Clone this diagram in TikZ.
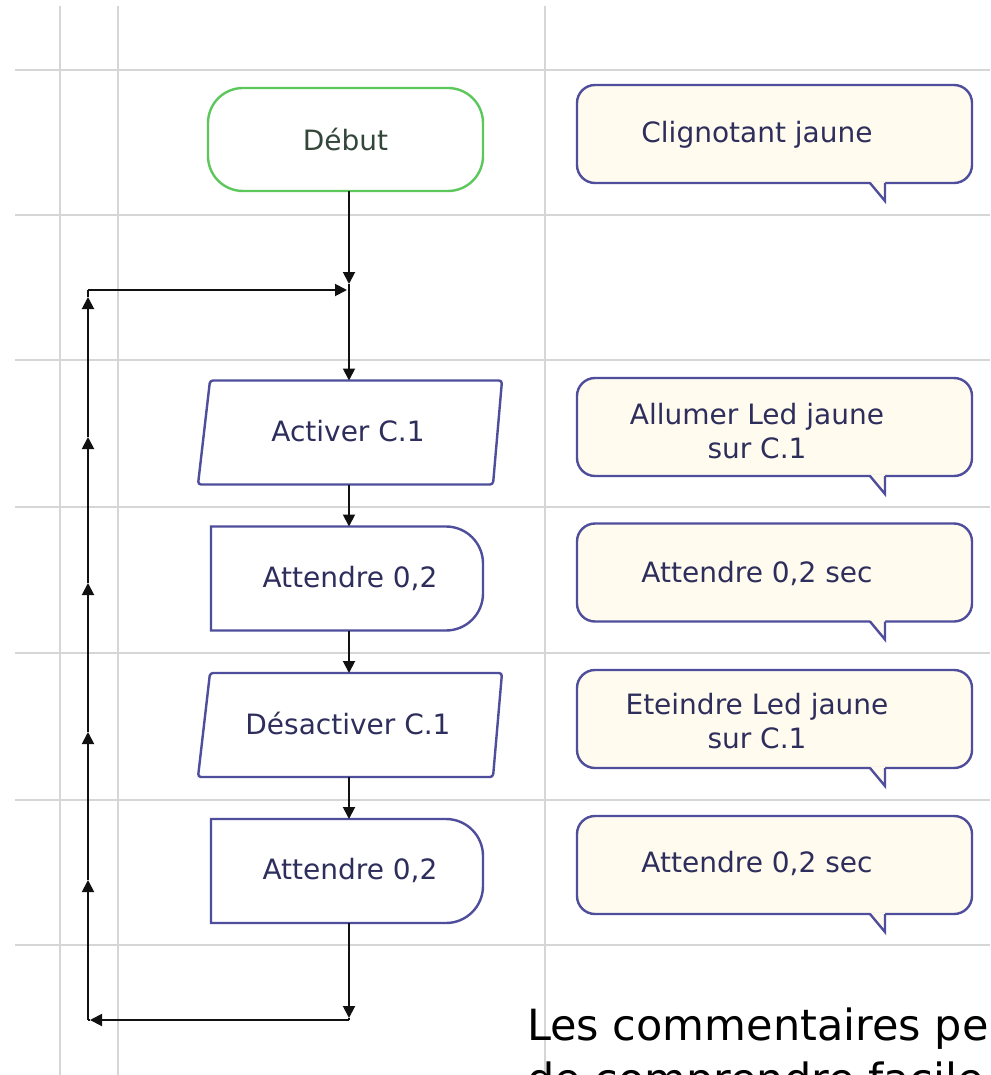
\documentclass[tikz,border=0pt]{standalone}
\usepackage{fontspec}
\setmainfont{DejaVu Sans}
\usetikzlibrary{arrows.meta,calc}
\definecolor{gridc}{HTML}{D6D6D6}
\definecolor{bordc}{HTML}{4E4E9C}
\definecolor{greenc}{HTML}{5CC85C}
\definecolor{creme}{HTML}{FFFBEE}
\definecolor{txtblue}{HTML}{2E2E5C}
\definecolor{txtgreen}{HTML}{33463A}
\definecolor{linec}{HTML}{111111}
\begin{document}
\begin{tikzpicture}[x=1pt,y=-1pt,
  gridline/.style={draw=gridc,line width=1.5pt},
  flowfont/.style={font=\fontsize{28}{34}\selectfont},
  flowbox/.style={draw=none,inner sep=0pt,outer sep=0pt,minimum height=104pt,minimum width=#1,flowfont,text=txtblue},
  shapeline/.style={draw=bordc,line width=2.4pt,fill=white},
  cbox/.style={draw=bordc,fill=creme,line width=2.4pt,rounded corners=18pt,minimum width=395pt,minimum height=98pt,inner sep=0pt,outer sep=0pt},
  ctext/.style={flowfont,text=txtblue,align=center,inner sep=0pt},
  conn/.style={draw=linec,line width=1.9pt},
  arr/.style={conn,-{Triangle[length=12pt,width=12pt]}},
  notefont/.style={font=\fontsize{43}{53}\selectfont,inner sep=0pt,anchor=base west,text=black}
]
\useasboundingbox (0,0) rectangle (990,1075);
\clip (0,0) rectangle (990,1075);
\fill[white] (0,0) rectangle (990,1075);

% grid
\foreach \yy in {70,215,360,507,653,800,945} \draw[gridline] (15,\yy) -- (990,\yy);
\foreach \xx in {60,118,545} \draw[gridline] (\xx,6) -- (\xx,1075);

% Start
\node[draw=greenc,line width=2.4pt,fill=white,rounded corners=35pt,minimum width=275pt,minimum height=103pt,inner sep=0pt,outer sep=0pt,flowfont,text=txtgreen] (debut) at (345.5,139.5) {Début};

% Activer C.1 (parallelogram)
\node[flowbox=304pt] (act) at (350,432.5) {};
\draw[shapeline,rounded corners=3pt] ([xshift=12pt]act.north west) -- (act.north east) -- ([xshift=-9pt]act.south east) -- (act.south west) -- cycle;
\node[flowbox=0pt] (actt) at (348,431) {Activer C.1};

% Attendre 0,2 (delay)
\node[flowbox=272pt] (att1) at (347,578.5) {};
\draw[shapeline] (att1.south west) -- (att1.north west) -- ([xshift=-37pt]att1.north east) arc[start angle=-90,end angle=0,radius=37] -- ([yshift=37pt]att1.south east) arc[start angle=0,end angle=90,radius=37] -- cycle;
\node[flowbox=0pt] (att1t) at (350,578) {Attendre 0,2};

% Desactiver C.1
\node[flowbox=304pt] (des) at (350,725) {};
\draw[shapeline,rounded corners=3pt] ([xshift=12pt]des.north west) -- (des.north east) -- ([xshift=-9pt]des.south east) -- (des.south west) -- cycle;
\node[flowbox=0pt] (dest) at (348,723) {Désactiver C.1};

% Attendre 0,2 (delay)
\node[flowbox=272pt] (att2) at (347,871) {};
\draw[shapeline] (att2.south west) -- (att2.north west) -- ([xshift=-37pt]att2.north east) arc[start angle=-90,end angle=0,radius=37] -- ([yshift=37pt]att2.south east) arc[start angle=0,end angle=90,radius=37] -- cycle;
\node[flowbox=0pt] (att2t) at (350,870) {Attendre 0,2};

% comments
\foreach \n/\cy in {c1/134,c2/427,c3/572.5,c4/719,c5/865}{
  \node[cbox] (\n) at (774.5,\cy) {};
  \fill[creme] ([xshift=-102pt,yshift=1.7pt]\n.south east) -- ([xshift=-87pt,yshift=1.7pt]\n.south east) -- ([xshift=-87pt,yshift=-18pt]\n.south east) -- cycle;
  \draw[draw=bordc,line width=2.4pt] ([xshift=-102pt]\n.south east) -- ([xshift=-87pt,yshift=-18pt]\n.south east) -- ([xshift=-87pt]\n.south east);
}
\node[ctext] (t1) at (757,135) {Clignotant jaune};
\node[ctext] (t2) at (757,431) {Allumer Led jaune\\sur C.1};
\node[ctext] (t3) at (757,573) {Attendre 0,2 sec};
\node[ctext] (t4) at (757,721) {Eteindre Led jaune\\sur C.1};
\node[ctext] (t5) at (757,863) {Attendre 0,2 sec};

% connectors
\coordinate (j) at (349,290);
\coordinate (jt) at (349,284);
\coordinate (jr) at (347,290);
\coordinate (l) at (88,290);
\coordinate (b) at (349,1020);
\coordinate (bt) at (349,1018);
\coordinate (lb) at (88,1020);
\coordinate (lbt) at (90,1020);
\coordinate (u1) at (88,880);
\coordinate (u2) at (88,732);
\coordinate (u3) at (88,583);
\coordinate (u4) at (88,437);
\coordinate (u5) at (88,297);

\draw[arr] (debut.south -| j) -- (jt);
\draw[conn] (jt) -- (j);
\draw[arr] (j) -- (j |- act.north);
\draw[arr] (l) -- (jr);
\draw[arr] (act.south -| j) -- (j |- att1.north);
\draw[arr] (att1.south -| j) -- (j |- des.north);
\draw[arr] (des.south -| j) -- (j |- att2.north);
\draw[arr] (att2.south -| j) -- (bt);
\draw[conn] (bt) -- (b);
\draw[arr] (b) -- (lbt);
\draw[conn] (lbt) -- (lb);
\draw[arr] (lb) -- (u1);
\draw[arr] (u1) -- (u2);
\draw[arr] (u2) -- (u3);
\draw[arr] (u3) -- (u4);
\draw[arr] (u4) -- (u5);
\draw[conn] (u5) -- (l);

% note text (cut off at the lower edge, as in the reference)
\node[notefont] (note1) at (527,1040) {Les commentaires pe};
\node[notefont] (note2) at (527,1094) {de comprendre facile};
\end{tikzpicture}
\end{document}
